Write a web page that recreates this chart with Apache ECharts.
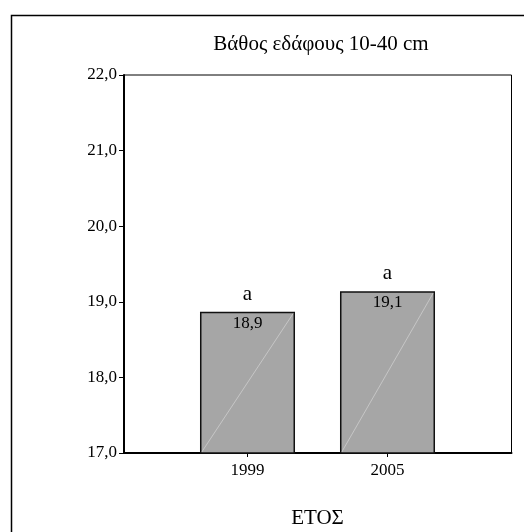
<!DOCTYPE html>
<html>
<head>
<meta charset="utf-8">
<script src="https://cdn.jsdelivr.net/npm/echarts@6/dist/echarts.min.js"></script>
<style>
html,body{margin:0;padding:0;background:#fff;}
#chart{width:524px;height:532px;}
</style>
</head>
<body>
<div id="chart"></div>
<script>
const categories = ['1999', '2005'];
const values = [18.86, 19.13];
const letters = ['a', 'a'];
const yMin = 17, yMax = 22, yStep = 1;
const titleText = 'Βάθος εδάφους 10-40 cm';
const xTitle = 'ΕΤΟΣ';

const FONT = '"Liberation Serif", "Times New Roman", serif';
const chart = echarts.init(document.getElementById('chart'), null, {renderer: 'canvas'});

const fmt = v => v.toFixed(1).replace('.', ',');

chart.setOption({
  animation: false,
  backgroundColor: '#fff',
  title: {
    text: titleText,
    left: 316, top: 29, textAlign: 'center',
    textStyle: {fontFamily: FONT, fontSize: 21, fontWeight: 'normal', color: '#000'}
  },
  graphic: [{
    type: 'rect', z: -10,
    shape: {x: 11.5, y: 15.5, width: 700, height: 700},
    style: {fill: 'none', stroke: '#000', lineWidth: 1.5}
  }],
  grid: [
    {left: 124, top: 75, right: 12.5, bottom: 79, containLabel: false, outerBoundsMode: 'none',
     show: true, borderColor: '#000', borderWidth: 1, backgroundColor: 'transparent'},
    {left: 177.5, top: 75, right: 66.5, bottom: 79, containLabel: false, outerBoundsMode: 'none'}
  ],
  xAxis: [
    {gridIndex: 0, type: 'value', min: 0, max: 1,
     axisLine: {show: true, lineStyle: {color: '#000', width: 2}},
     axisTick: {show: false}, axisLabel: {show: false}, splitLine: {show: false}},
    {gridIndex: 1, type: 'category', data: categories, boundaryGap: true,
     axisLine: {show: false},
     axisTick: {show: true, alignWithLabel: true, length: 4, lineStyle: {color: '#000', width: 1}},
     axisLabel: {margin: 9, fontFamily: FONT, fontSize: 17, color: '#000'},
     name: xTitle, nameLocation: 'middle', nameGap: 55,
     nameTextStyle: {fontFamily: FONT, fontSize: 21, color: '#000'}}
  ],
  yAxis: [
    {gridIndex: 0, type: 'value', min: yMin, max: yMax, interval: yStep,
     axisLine: {show: true, lineStyle: {color: '#000', width: 2}},
     axisTick: {show: true, length: 5, lineStyle: {color: '#000', width: 1}},
     axisLabel: {margin: 7, formatter: v => fmt(v), fontFamily: FONT, fontSize: 17, color: '#000'},
     splitLine: {show: false}},
    {gridIndex: 1, type: 'value', min: yMin, max: yMax, interval: yStep, show: false}
  ],
  series: [{
    type: 'custom',
    xAxisIndex: 1, yAxisIndex: 1,
    data: categories.map((c, i) => [i, values[i]]),
    renderItem: function (params, api) {
      const x = api.value(0), v = api.value(1);
      const top = api.coord([x, v]);
      const base = api.coord([x, yMin]);
      const w = api.size([1, 0])[0] * 0.668;
      const x0 = top[0] - w / 2;
      const i = params.dataIndex;
      return {
        type: 'group',
        children: [
          {type: 'rect', shape: {x: x0, y: top[1], width: w, height: base[1] - top[1]},
           style: {fill: '#a6a6a6', stroke: '#111', lineWidth: 1.5}},
          {type: 'line', shape: {x1: x0 + 1, y1: base[1] - 1, x2: x0 + w - 1, y2: top[1] + 1},
           style: {stroke: 'rgba(255,255,255,0.45)', lineWidth: 0.8}},
          {type: 'text', style: {text: fmt(v), x: top[0], y: top[1] + 11, align: 'center', verticalAlign: 'middle',
            font: '17px ' + FONT, fill: '#000'}},
          {type: 'text', style: {text: letters[i], x: top[0], y: top[1] - 18, align: 'center', verticalAlign: 'middle',
            font: '21px ' + FONT, fill: '#000'}}
        ]
      };
    }
  }]
});
</script>
</body>
</html>
